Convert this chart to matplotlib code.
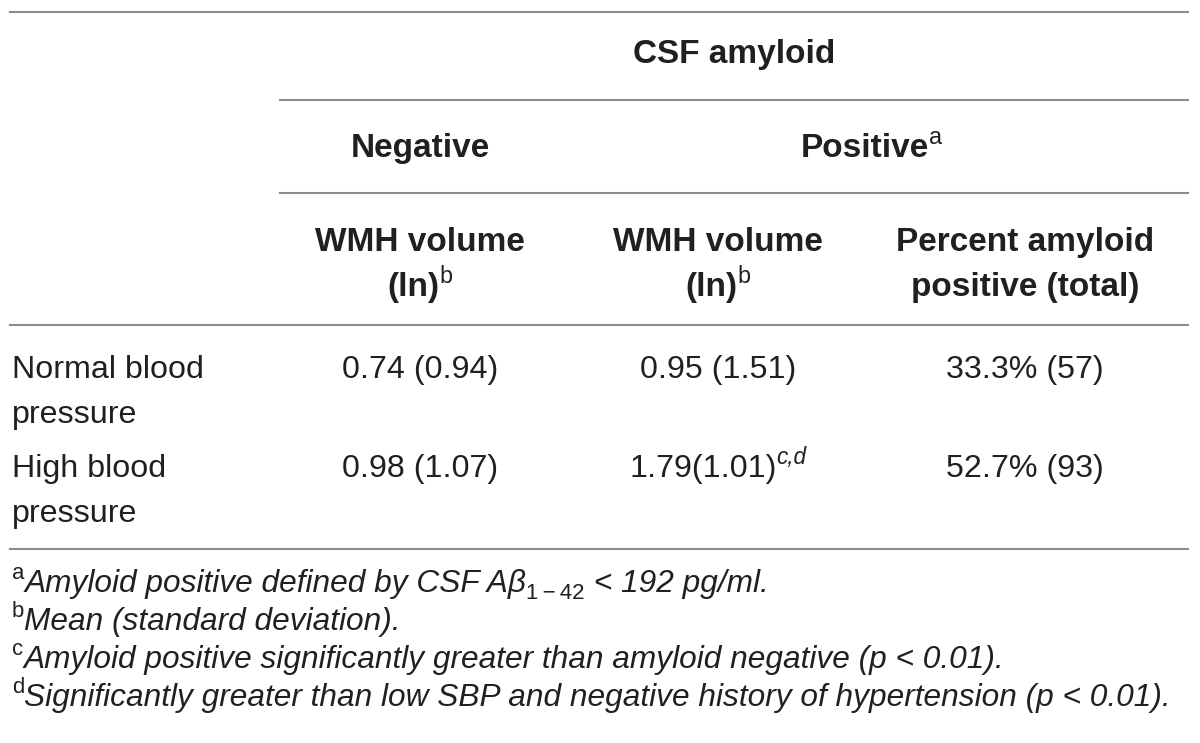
import matplotlib
matplotlib.use("Agg")
import matplotlib.pyplot as plt

plt.rcParams['font.family'] = ['Liberation Sans', 'DejaVu Sans']

# Table content
top_header = "CSF amyloid"
group_headers = ["Negative", "Positive"]
col_headers = [["WMH volume", "(ln)"], ["WMH volume", "(ln)"],
               ["Percent amyloid", "positive (total)"]]
col_header_sup = ["b", "b", ""]
row_labels = [["Normal blood", "pressure"], ["High blood", "pressure"]]
neg_wmh = ["0.74 (0.94)", "0.98 (1.07)"]
pos_wmh = ["0.95 (1.51)", "1.79(1.01)"]
pos_wmh_sup = ["", "c,d"]
pct_positive = ["33.3% (57)", "52.7% (93)"]
footnotes = [
    ("a", [("Amyloid positive defined by CSF A\u03b2", "it"), ("1\u2009\u2212\u200942", "sub"),
           (" < 192 pg/ml.", "it")]),
    ("b", [("Mean (standard deviation).", "it")]),
    ("c", [("Amyloid positive significantly greater than amyloid negative (p < 0.01).", "it")]),
    ("d", [("Significantly greater than low SBP and negative history of hypertension (p < 0.01).", "it")]),
]

TXT = "#231f20"
LINE = "#8c8c8c"
FS_HEAD = 24
FS = 23.2
FN = 22.8

fig = plt.figure(figsize=(12, 7.43), dpi=100)
ax = fig.add_axes([0, 0, 1, 1])
ax.set_xlim(0, 1200)
ax.set_ylim(743, 0)
ax.axis('off')
renderer = fig.canvas.get_renderer()


def draw_runs(x, y, pieces, ha='left', size=FS, weight='normal'):
    # pieces: list of (text, kind); kind = 'n', 'it', 'sup', 'supit', 'sub'
    arts = []
    widths = []
    for text, kind in pieces:
        fs = size * 0.7 if kind in ('sup', 'supit', 'sub') else size
        style = 'italic' if kind in ('it', 'supit') else 'normal'
        w = weight if kind in ('n', 'it') else 'normal'
        t = ax.text(0, y, text, fontsize=fs, fontstyle=style, fontweight=w,
                    color=TXT, va='baseline', ha='left')
        arts.append((t, kind))
        widths.append(t.get_window_extent(renderer).width)
    total = sum(widths)
    if ha == 'center':
        cur = x - total / 2
    else:
        cur = x
    for (t, kind), w in zip(arts, widths):
        dy = 0
        if kind in ('sup', 'supit'):
            dy = -size * 0.55
        elif kind == 'sub':
            dy = size * 0.3
        t.set_position((cur, y + dy))
        cur += w


# horizontal rules
ax.plot([10, 1188], [12, 12], color=LINE, lw=1.5)
ax.plot([280, 1188], [100, 100], color=LINE, lw=1.5)
ax.plot([280, 1188], [193, 193], color=LINE, lw=1.5)
ax.plot([10, 1188], [325, 325], color=LINE, lw=1.5)
ax.plot([10, 1188], [549, 549], color=LINE, lw=1.5)

col_x = [420, 718, 1025]

draw_runs(734, 63, [(top_header, 'n')], ha='center', size=FS_HEAD, weight='bold')
draw_runs(col_x[0], 157, [(group_headers[0], 'n')], ha='center', size=FS_HEAD, weight='bold')
draw_runs((col_x[1] + col_x[2]) / 2, 157, [(group_headers[1], 'n'), ("a", 'sup')],
          ha='center', size=FS_HEAD, weight='bold')

for cx, lines, sup in zip(col_x, col_headers, col_header_sup):
    draw_runs(cx, 251, [(lines[0], 'n')], ha='center', size=FS_HEAD, weight='bold')
    p = [(lines[1], 'n')]
    if sup:
        p.append((sup, 'sup'))
    draw_runs(cx, 296, p, ha='center', size=FS_HEAD, weight='bold')

row_y = [378, 477]
for i, y in enumerate(row_y):
    draw_runs(12, y, [(row_labels[i][0], 'n')])
    draw_runs(12, y + 45, [(row_labels[i][1], 'n')])
    draw_runs(col_x[0], y, [(neg_wmh[i], 'n')], ha='center')
    p = [(pos_wmh[i], 'n')]
    if pos_wmh_sup[i]:
        p.append((pos_wmh_sup[i], 'supit'))
    draw_runs(col_x[1], y, p, ha='center')
    draw_runs(col_x[2], y, [(pct_positive[i], 'n')], ha='center')

fn_y = [592, 630, 668, 706]
for (mark, parts), y in zip(footnotes, fn_y):
    draw_runs(12, y, [(mark, 'sup')] + parts, size=FN)

fig.savefig("out.png", dpi=100)
